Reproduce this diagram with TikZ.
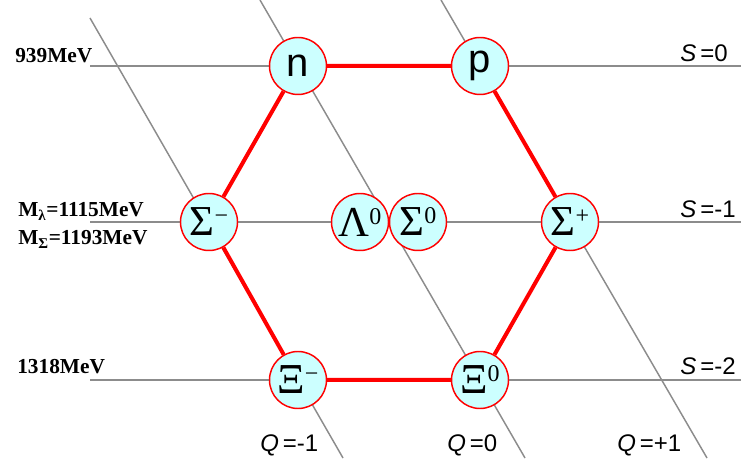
\documentclass[tikz,border=0pt]{standalone}
\usepackage{fontspec}
\setmainfont{Liberation Serif}
\setsansfont{Liberation Sans}
\usetikzlibrary{backgrounds}
\definecolor{cyanfill}{RGB}{204,255,255}
\definecolor{gridgray}{RGB}{140,140,140}
\newcommand{\bsup}[2]{#1\raisebox{9pt}{\fontsize{18}{18}\selectfont #2}}

\begin{document}
\begin{tikzpicture}[x=0.75pt, y=-0.75pt,
        particle/.style={draw=red, line width=1.1pt, circle, fill=cyanfill, minimum size=42.75pt, inner sep=0pt, font=\fontsize{32}{32}\selectfont},
        quark/.style={particle, font=\sffamily\fontsize{30}{30}\selectfont},
        gridline/.style={draw=gridgray, line width=1.1pt},
        octet/.style={draw=red, line width=3pt},
        mass/.style={inner sep=0pt, anchor=base west, font=\fontsize{16}{16}\selectfont\bfseries},
        qnum/.style={inner sep=0pt, anchor=base west, font=\sffamily\fontsize{18}{18}\selectfont}]
    \useasboundingbox (0,0) rectangle (753,473);
    % baryon octet
    \node[quark] (n) at (298,66) {n};
    \node[quark] (p) at (480,66) {p};
    \node[particle] (sigm) at (209,222) {\bsup{Σ}{−}};
    \node[particle] (lam) at (360,222) {\bsup{Λ}{0}};
    \node[particle] (sigz) at (418,222) {\bsup{Σ}{0}};
    \node[particle] (sigp) at (570,222) {\bsup{Σ}{+}};
    \node[particle] (xim) at (298,380) {\bsup{Ξ}{−}};
    \node[particle] (xiz) at (480,380) {\bsup{Ξ}{0}};
    \draw[octet] (n) -- (p) -- (sigp) -- (xiz) -- (xim) -- (sigm) -- (n);
    % strangeness and charge lines
    \foreach \y/\nm in {66/s0, 222/s1, 380/s2} {
        \coordinate (\nm l) at (90,\y);
        \coordinate (\nm r) at (741,\y);
    }
    \coordinate (qm top) at (90,18);   \coordinate (qm bot) at (343,458);
    \coordinate (qz top) at (260,0);   \coordinate (qz bot) at (525,458);
    \coordinate (qp top) at (441,0);   \coordinate (qp bot) at (707,458);
    \begin{scope}[on background layer]
        \foreach \nm in {s0, s1, s2}
            \draw[gridline] (\nm l) -- (\nm r);
        \foreach \nm in {qm, qz, qp}
            \draw[gridline] (\nm\space top) -- (\nm\space bot);
    \end{scope}
    % masses
    \node[mass] (m0) at (15,63) {939MeV};
    \node[mass] (mlam) at (18,217) {M\textsubscript{λ}=1115MeV};
    \node[mass] (msig) at (18,245) {M\textsubscript{Σ}=1193MeV};
    \node[mass] (mxi) at (17,374) {1318MeV};
    % quantum numbers
    \node[qnum] (S0) at (680,62) {\textit{S}\,=0};
    \node[qnum] (S1) at (680,218) {\textit{S}\,=-1};
    \node[qnum] (S2) at (680,375) {\textit{S}\,=-2};
    \node[qnum] (Qm) at (260,452) {\textit{Q}\,=-1};
    \node[qnum] (Qz) at (447,452) {\textit{Q}\,=0};
    \node[qnum] (Qp) at (617,452) {\textit{Q}\,=+1};
\end{tikzpicture}
\end{document}
